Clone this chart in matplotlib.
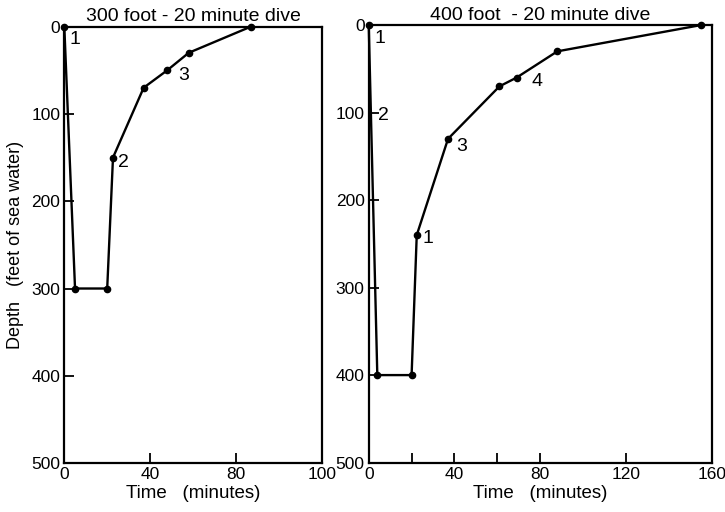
import matplotlib.pyplot as plt

plt.rcParams['font.family'] = ['Liberation Sans', 'DejaVu Sans']

# 300 foot - 20 minute dive (time in minutes, depth in feet of sea water)
left_time = [0, 5, 20, 22.7, 37, 48, 58, 87]
left_depth = [0, 300, 300, 150, 70, 50, 30, 0]
left_labels = [('1', 5.0, 15), ('2', 27.5, 156), ('3', 55.5, 56)]

# 400 foot - 20 minute dive
right_time = [0, 4, 20, 22.4, 37, 61, 69, 88, 155]
right_depth = [0, 400, 400, 240, 130, 70, 60, 30, 0]
right_labels = [('1', 5.2, 15), ('2', 6.8, 103), ('3', 43.3, 139),
                ('1', 27.8, 244), ('4', 78.3, 65)]

depth_ticks = [0, 100, 200, 300, 400, 500]
left_xticks = [0, 40, 80, 120]
left_xticklabels = ['0', '40', '80', '100']
right_xticks = [0, 20, 40, 60, 80, 120, 160]
right_xticklabels = ['0', '', '40', '', '80', '120', '160']


def drawDive(ax, time, depth, labels, title, xmax, xticks, xticklabels):
    ax.plot(time, depth, color='black', lw=1.7, marker='o', ms=4.5,
            clip_on=False, zorder=3)
    for txt, t, d in labels:
        ax.text(t, d, txt, fontsize=14, ha='center', va='center')
    ax.set_xlim(0, xmax)
    ax.set_ylim(500, 0)
    ax.set_yticks(depth_ticks)
    ax.set_xticks(xticks, labels=xticklabels)
    ax.tick_params(direction='in', length=7, width=1.3, labelsize=12.5, pad=3)
    for s in ax.spines.values():
        s.set_linewidth(1.6)
    ax.set_title(title, fontsize=14, pad=4)
    ax.set_xlabel('Time   (minutes)', fontsize=13.5, labelpad=2)


fig = plt.figure(figsize=(7.25, 5.12), dpi=100)
ax1 = fig.add_axes([0.0887, 0.0955, 0.355, 0.8525])
ax2 = fig.add_axes([0.5086, 0.0965, 0.473, 0.8545])

drawDive(ax1, left_time, left_depth, left_labels, '300 foot - 20 minute dive',
         120, left_xticks, left_xticklabels)
drawDive(ax2, right_time, right_depth, right_labels, '400 foot  - 20 minute dive',
         160, right_xticks, right_xticklabels)
ax1.set_ylabel('Depth   (feet of sea water)', fontsize=13, labelpad=5)

fig.savefig('out.png', dpi=100)
plt.close()
